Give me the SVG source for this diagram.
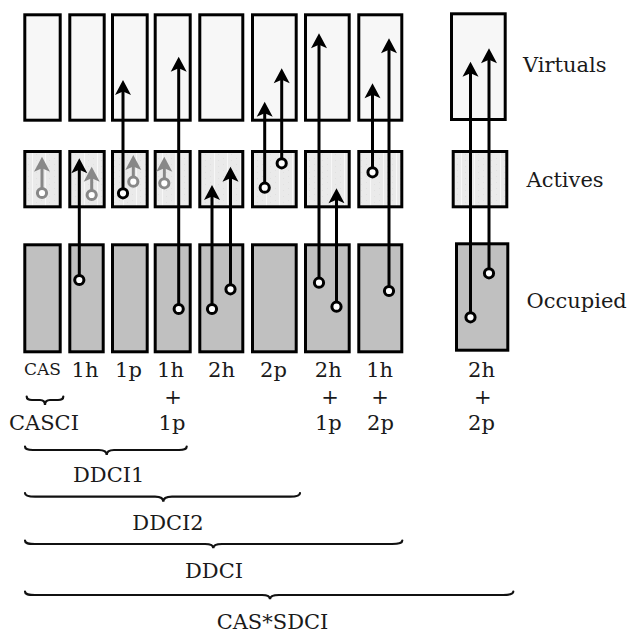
<svg xmlns="http://www.w3.org/2000/svg" xmlns:xlink="http://www.w3.org/1999/xlink" width="630" height="633" viewBox="0 0 630 633">
  <defs>
    <pattern id="activeFill" width="13" height="6" patternUnits="userSpaceOnUse">
      <rect width="13" height="6" fill="#eaeaea"/>
      <rect x="6" width="1" height="6" fill="#f7f7f7"/>
      <rect x="2" y="2" width="1" height="1" fill="#e0e0e0"/>
      <rect x="10" y="4" width="1" height="1" fill="#e0e0e0"/>
    </pattern>
    <!-- barbed arrowhead, tip at origin pointing up -->
    <path id="head" d="M0,0 L8,15 L0,11.5 L-8,15 Z"/>
  </defs>
  <style>
    .box { stroke: #000; stroke-width: 3; }
    .virt { fill: #f7f7f7; }
    .act { fill: url(#activeFill); }
    .occ { fill: #c0c0c0; }
    .shaft { stroke: #000; stroke-width: 3; fill: none; }
    .dot { fill: #fff; stroke: #000; stroke-width: 3; }
    .grey .shaft { stroke: #888; }
    .grey .dot { stroke: #888; }
    .grey use { fill: #888; }
    use { fill: #000; }
    text { font-family: "DejaVu Serif", "Liberation Serif", serif; font-size: 21px; fill: #1a1a1a; }
    .mid { text-anchor: middle; }
    .small { font-size: 17px; }
    .brace { fill: none; stroke: #111; stroke-width: 2.2; stroke-linecap: round; }
  </style>

  <!-- orbital blocks: virtual / active / occupied for each excitation class -->
  <g id="col-cas">
    <rect class="box virt" x="24.8" y="14.8" width="35.4" height="105.4"/>
    <rect class="box act" x="24.8" y="151.5" width="35.4" height="55.3"/>
    <rect class="box occ" x="24.8" y="244.8" width="35.4" height="107"/>
  </g>
  <g id="col-1h">
    <rect class="box virt" x="69.8" y="14.8" width="34.4" height="105.4"/>
    <rect class="box act" x="69.8" y="151.5" width="34.4" height="55.3"/>
    <rect class="box occ" x="69.8" y="244.8" width="33.4" height="107"/>
  </g>
  <g id="col-1p">
    <rect class="box virt" x="112.5" y="14.8" width="34.7" height="105.4"/>
    <rect class="box act" x="112.5" y="151.5" width="34.7" height="55.3"/>
    <rect class="box occ" x="112.5" y="244.8" width="34.7" height="107"/>
  </g>
  <g id="col-1h1p">
    <rect class="box virt" x="155.2" y="14.8" width="35" height="105.4"/>
    <rect class="box act" x="155.2" y="151.5" width="35" height="55.3"/>
    <rect class="box occ" x="155.2" y="244.8" width="35" height="107"/>
  </g>
  <g id="col-2h">
    <rect class="box virt" x="199.8" y="14.8" width="43" height="105.4"/>
    <rect class="box act" x="199.8" y="151.5" width="43" height="55.3"/>
    <rect class="box occ" x="199.8" y="244.8" width="43" height="107"/>
  </g>
  <g id="col-2p">
    <rect class="box virt" x="252.5" y="14.8" width="43.7" height="105.4"/>
    <rect class="box act" x="252.5" y="151.5" width="43.7" height="55.3"/>
    <rect class="box occ" x="252.5" y="244.8" width="43.7" height="107"/>
  </g>
  <g id="col-2h1p">
    <rect class="box virt" x="305.5" y="14.8" width="43.7" height="105.4"/>
    <rect class="box act" x="305.5" y="151.5" width="43.7" height="55.3"/>
    <rect class="box occ" x="305.5" y="244.8" width="43.7" height="107"/>
  </g>
  <g id="col-1h2p">
    <rect class="box virt" x="358.8" y="14.8" width="43" height="105.4"/>
    <rect class="box act" x="358.8" y="151.5" width="43" height="55.3"/>
    <rect class="box occ" x="358.8" y="244.8" width="43" height="107"/>
  </g>
  <g id="col-2h2p">
    <rect class="box virt" x="451.5" y="13.8" width="53.7" height="105.7"/>
    <rect class="box act" x="453.2" y="151.5" width="53.6" height="55.3"/>
    <rect class="box occ" x="456.5" y="243.8" width="51.3" height="106.4"/>
  </g>

  <!-- excitations: hole circle to particle arrowhead -->
  <g id="excitations">
    <g class="grey">
      <line class="shaft" x1="42" y1="193" x2="42" y2="167"/><use xlink:href="#head" x="42" y="156.7"/><circle class="dot" cx="42" cy="193" r="4.6"/>
      <line class="shaft" x1="91.7" y1="195" x2="91.7" y2="177"/><use xlink:href="#head" x="91.7" y="166.7"/><circle class="dot" cx="91.7" cy="195" r="4.6"/>
      <line class="shaft" x1="133.3" y1="181.7" x2="133.3" y2="165"/><use xlink:href="#head" x="133.3" y="155"/><circle class="dot" cx="133.3" cy="181.7" r="4.6"/>
      <line class="shaft" x1="164.3" y1="183.3" x2="164.3" y2="167"/><use xlink:href="#head" x="164.3" y="156.7"/><circle class="dot" cx="164.3" cy="183.3" r="4.6"/>
    </g>
    <g>
      <line class="shaft" x1="79.3" y1="280" x2="79.3" y2="168"/><use xlink:href="#head" x="79.3" y="158.3"/><circle class="dot" cx="79.3" cy="280" r="4.6"/>
      <line class="shaft" x1="123" y1="193.3" x2="123" y2="90"/><use xlink:href="#head" x="123" y="80"/><circle class="dot" cx="123" cy="193.3" r="4.6"/>
      <line class="shaft" x1="178.7" y1="309" x2="178.7" y2="66"/><use xlink:href="#head" x="178.7" y="56.7"/><circle class="dot" cx="178.7" cy="309" r="4.6"/>
      <line class="shaft" x1="212" y1="309" x2="212" y2="195"/><use xlink:href="#head" x="212" y="185"/><circle class="dot" cx="212" cy="309" r="4.6"/>
      <line class="shaft" x1="230.5" y1="289.3" x2="230.5" y2="176"/><use xlink:href="#head" x="230.5" y="166.7"/><circle class="dot" cx="230.5" cy="289.3" r="4.6"/>
      <line class="shaft" x1="264.7" y1="187.7" x2="264.7" y2="111"/><use xlink:href="#head" x="264.7" y="101.7"/><circle class="dot" cx="264.7" cy="187.7" r="4.6"/>
      <line class="shaft" x1="281.7" y1="163.3" x2="281.7" y2="78"/><use xlink:href="#head" x="281.7" y="68.3"/><circle class="dot" cx="281.7" cy="163.3" r="4.6"/>
      <line class="shaft" x1="319" y1="282.7" x2="319" y2="43"/><use xlink:href="#head" x="319" y="33.3"/><circle class="dot" cx="319" cy="282.7" r="4.6"/>
      <line class="shaft" x1="336.5" y1="306.7" x2="336.5" y2="198"/><use xlink:href="#head" x="336.5" y="188.3"/><circle class="dot" cx="336.5" cy="306.7" r="4.6"/>
      <line class="shaft" x1="372.5" y1="172.3" x2="372.5" y2="93"/><use xlink:href="#head" x="372.5" y="83.3"/><circle class="dot" cx="372.5" cy="172.3" r="4.6"/>
      <line class="shaft" x1="389" y1="291" x2="389" y2="48"/><use xlink:href="#head" x="389" y="38.3"/><circle class="dot" cx="389" cy="291" r="4.6"/>
      <line class="shaft" x1="470.5" y1="317.3" x2="470.5" y2="71"/><use xlink:href="#head" x="470.5" y="61.7"/><circle class="dot" cx="470.5" cy="317.3" r="4.6"/>
      <line class="shaft" x1="489" y1="273.3" x2="489" y2="58"/><use xlink:href="#head" x="489" y="48.3"/><circle class="dot" cx="489" cy="273.3" r="4.6"/>
    </g>
  </g>

  <!-- space labels -->
  <g id="row-labels">
    <text x="523" y="71.7">Virtuals</text>
    <text x="526.5" y="186.7">Actives</text>
    <text x="526.5" y="308.3">Occupied</text>
  </g>

  <!-- excitation class labels -->
  <g id="class-labels" class="mid">
    <text class="mid small" x="42.5" y="375">CAS</text>
    <text class="mid" x="85" y="377">1h</text>
    <text class="mid" x="128.5" y="377">1p</text>
    <text class="mid" x="170.5" y="377">1h</text>
    <text class="mid" x="173" y="404">+</text>
    <text class="mid" x="172" y="430">1p</text>
    <text class="mid" x="221.5" y="377">2h</text>
    <text class="mid" x="273.5" y="377">2p</text>
    <text class="mid" x="328.3" y="377">2h</text>
    <text class="mid" x="330" y="404">+</text>
    <text class="mid" x="328.3" y="430">1p</text>
    <text class="mid" x="379.7" y="377">1h</text>
    <text class="mid" x="380" y="404">+</text>
    <text class="mid" x="380.5" y="430">2p</text>
    <text class="mid" x="481.5" y="377">2h</text>
    <text class="mid" x="482.7" y="404">+</text>
    <text class="mid" x="481.5" y="430">2p</text>
  </g>

  <!-- method braces -->
  <g id="casci">
    <path class="brace" d="M26.7,396.5 C26.7,399 28,400 32,400 L40,400 C43,400 45,401.5 45,405 C45,401.5 47,400 50,400 L58,400 C62,400 63.3,399 63.3,396.5"/>
    <text class="mid" x="44" y="430">CASCI</text>
  </g>
  <g id="ddci1">
    <path class="brace" d="M25,446.5 C25,449 27,450 33,450 L99,450 C104,450 106.7,451.5 106.7,455 C106.7,451.5 109,450 114,450 L179,450 C185,450 186.7,449 186.7,446.5"/>
    <text class="mid" x="108.7" y="482.3">DDCI1</text>
  </g>
  <g id="ddci2">
    <path class="brace" d="M25,493 C25,495.5 27,496.7 35,496.7 L155,496.7 C160,496.7 163.3,498 163.3,501.7 C163.3,498 166,496.7 172,496.7 L290,496.7 C298,496.7 300,495.5 300,493"/>
    <text class="mid" x="168" y="530">DDCI2</text>
  </g>
  <g id="ddci">
    <path class="brace" d="M25,540.5 C25,543 27,544 35,544 L205,544 C210,544 213.3,545 213.3,548.3 C213.3,545 216,544 222,544 L392,544 C400,544 402.3,543 402.3,540.5"/>
    <text class="mid" x="214" y="578.3">DDCI</text>
  </g>
  <g id="cas-sdci">
    <path class="brace" d="M25,591.5 C25,594 27,595 35,595 L262,595 C267,595 270,596 270,599.3 C270,596 273,595 279,595 L503,595 C511,595 513.3,594 513.3,591.5"/>
    <text class="mid" x="272.5" y="628.5">CAS*SDCI</text>
  </g>
</svg>
